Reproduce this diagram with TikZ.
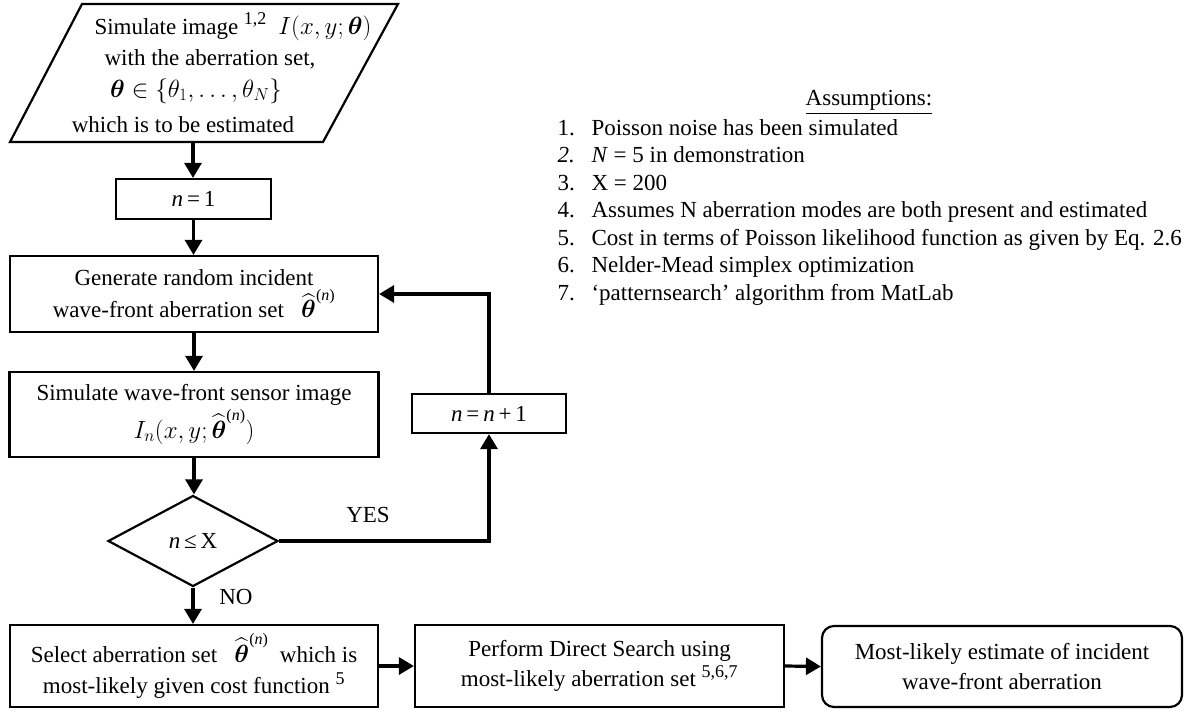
\documentclass[tikz,border=0pt]{standalone}
\usepackage{amsmath,amssymb}
\usepackage{fontspec}
\setmainfont{Liberation Serif}
\usetikzlibrary{arrows.meta,shapes.geometric,calc}
\DeclareMathSizes{23}{23}{18}{14}
% estimated aberration set symbol with a readable superscript
\newcommand{\thetahatn}{\widehat{\boldsymbol{\theta}}^{\mbox{\fontsize{16}{16}\selectfont(\textit{n})}}}

\begin{document}
\begin{tikzpicture}[x=1pt,y=-1pt,
  every node/.style={font=\fontsize{23}{30}\selectfont},
  box/.style={draw, line width=2.2pt, inner sep=0pt, align=center},
  flow/.style={line width=3.2pt, -{Triangle[length=15pt,width=17pt]}},
  item/.style={anchor=base west},
]
\useasboundingbox (0,0) rectangle (1184,710);

% input parallelogram
\coordinate (pA) at (82,4);
\coordinate (pB) at (398,4);
\coordinate (pC) at (323,142);
\coordinate (pD) at (10,142);
\coordinate (pOut) at (193,142);
\draw[line width=2.2pt, line join=miter] (pA) -- (pB) -- (pC) -- (pD) -- cycle;
\node[anchor=base] (in1) at (233,34) {Simulate image \textsuperscript{1,2}\enspace $I(x,y;\boldsymbol{\theta})$};
\node[anchor=base] (in2) at (210,65) {with the aberration set,};
\node[anchor=base] (in3) at (196,97) {$\boldsymbol{\theta}\in\{\theta_1,\ldots,\theta_N\}$};
\node[anchor=base] (in4) at (183,132) {which is to be estimated};

% process boxes
\node[box, minimum width=155, minimum height=40] (n1) at (193.5,199) {\textit{n}\,=\,1};
\node[box, minimum width=368, minimum height=76] (gen) at (194,294)
  {Generate random incident\\[2pt] wave-front aberration set \enspace$\thetahatn$};
\node[box, minimum width=369, minimum height=85] (sim) at (194,414.5)
  {Simulate wave-front sensor image\\[3pt] $I_n(x,y;\thetahatn)$};
\node[draw, diamond, line width=2.2pt, minimum width=170, minimum height=91, inner sep=0pt] (dec) at (193,541) {\textit{n}\,≤\,X};
\node[box, minimum width=154, minimum height=39] (inc) at (489,413.5) {\textit{n}\,=\,\textit{n}\,+\,1};
\node[box, minimum width=368, minimum height=82] (sel) at (194,666)
  {Select aberration set \enspace$\thetahatn$\enspace which is\\[1pt] most-likely given cost function \textsuperscript{5}};
\node[box, minimum width=369, minimum height=82] (perf) at (599.5,666)
  {Perform Direct Search using\\ most-likely aberration set \textsuperscript{5,6,7}};
\node[box, rounded corners=12pt, minimum width=360, minimum height=81] (est) at (1002,666.5)
  {Most-likely estimate of incident\\ wave-front aberration};

% branch labels
\node (yes) at (368,515) {YES};
\node (no) at (236,597) {NO};

% connectors
\draw[flow] (pOut) -- (pOut |- n1.north);
\draw[flow] (n1.south) -- (n1.south |- gen.north);
\draw[flow] (gen.south) -- (sim.north);
\draw[flow] (sim.south) -- (sim.south |- dec.north);
\draw[flow] (dec.south) -- (dec.south |- sel.north);
\draw[flow] (dec.east) -| (inc.south);
\draw[flow] (inc.north) |- (gen.east);
\draw[flow] (sel.east) -- (perf.west);
\draw[flow] (perf.east) -- (est.west);

% assumptions list
\node[anchor=base] (ah) at (869,105) {\underline{Assumptions:}};
\node[item] (a1) at (554,135) {\makebox[34pt][l]{1.}Poisson noise has been simulated};
\node[item] (a2) at (554,162.5) {\makebox[34pt][l]{\textit{2.}}\textit{N} = 5 in demonstration};
\node[item] (a3) at (554,190) {\makebox[34pt][l]{3.}X = 200};
\node[item] (a4) at (554,217.5) {\makebox[34pt][l]{4.}Assumes N aberration modes are both present and estimated};
\node[item] (a5) at (554,245) {\makebox[34pt][l]{5.}Cost in terms of Poisson likelihood function as given by Eq. 2.6};
\node[item] (a6) at (554,272.5) {\makebox[34pt][l]{6.}Nelder-Mead simplex optimization};
\node[item] (a7) at (554,300) {\makebox[34pt][l]{7.}‘patternsearch’ algorithm from MatLab};
\end{tikzpicture}
\end{document}
